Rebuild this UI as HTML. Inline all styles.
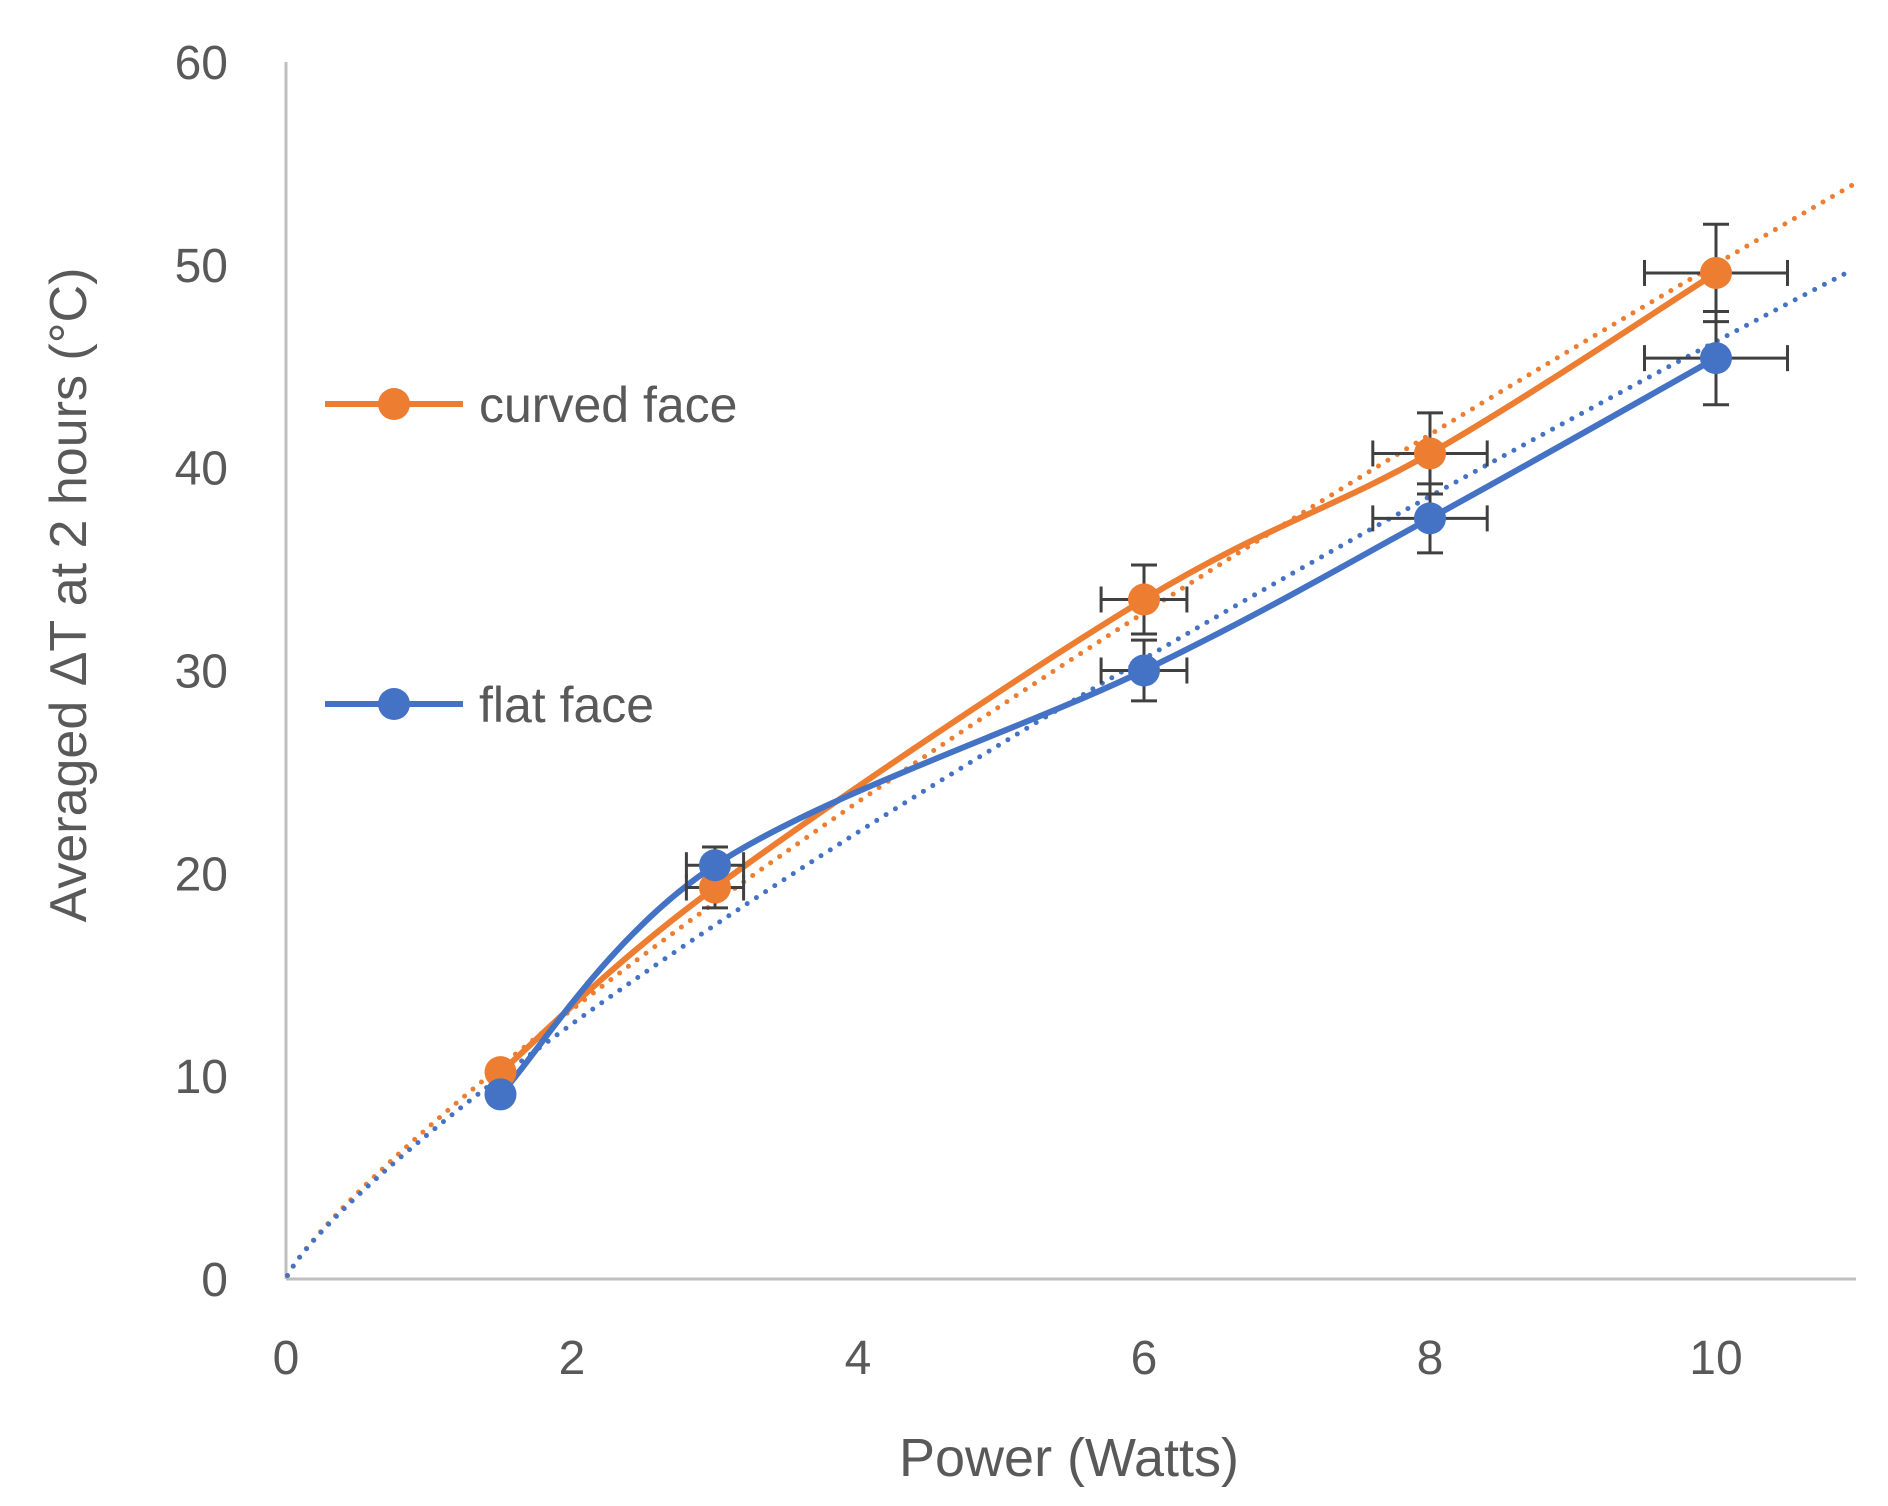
<!DOCTYPE html>
<html><head><meta charset="utf-8"><style>
html,body{margin:0;padding:0;background:#fff;}
svg{display:block;font-family:"Liberation Sans",sans-serif;}
</style></head><body>
<svg id="chart" width="1888" height="1506" viewBox="0 0 1888 1506">
<g id="axes"></g><g id="trend"></g><g id="lines"></g><g id="errs"></g><g id="marks"></g><g id="legend"></g>
</svg>
<script>
const xTicks=[0,2,4,6,8,10];
const yTicks=[0,10,20,30,40,50,60];
const powerW=[1.5,3,6,8,10];
const curvedT=[10.2,19.3,33.5,40.7,49.6];
const flatT=[9.1,20.4,30.0,37.5,45.4];
const curvedYErr=[0,1.0,1.7,2.0,2.4];
const flatYErr=[0,0.9,1.5,1.7,2.3];
const xErr=[0,0.2,0.3,0.4,0.5];
const seriesNames=["curved face","flat face"];
const NS="http://www.w3.org/2000/svg";
const X0=286,XS=143,Y0=1279,YS=(1279-62)/60,XMAX=11;
const sx=v=>X0+v*XS, sy=v=>Y0-v*YS;
function mk(tag,attrs,parent){const e=document.createElementNS(NS,tag);for(const k in attrs)e.setAttribute(k,attrs[k]);document.getElementById(parent).appendChild(e);return e;}
let a=mk('line',{x1:X0,y1:62,x2:X0,y2:Y0,stroke:'#bfbfbf','stroke-width':3},'axes');


a=mk('line',{x1:X0,y1:Y0,x2:1856,y2:Y0,stroke:'#bfbfbf','stroke-width':3},'axes');


xTicks.forEach(t=>{const e=mk('text',{x:sx(t),y:1374,'text-anchor':'middle','font-size':48,fill:'#595959'},'axes');e.textContent=t;

});
yTicks.forEach(t=>{const e=mk('text',{x:228,y:sy(t)+17,'text-anchor':'end','font-size':48,fill:'#595959'},'axes');e.textContent=t;

});
let t=mk('text',{x:1069,y:1476,'text-anchor':'middle','font-size':54,fill:'#595959'},'axes');t.textContent='Power (Watts)';


t=mk('text',{x:0,y:0,'text-anchor':'middle','font-size':52,fill:'#595959',transform:'translate(86,595) rotate(-90)'},'axes');t.textContent='Averaged ΔT at 2 hours (°C)';


const colors=['#ED7D31','#4472C4'];
const data=[curvedT,flatT], yerr=[curvedYErr,flatYErr];
function smooth(pts){let d=`M${pts[0][0]},${pts[0][1]}`;for(let i=0;i<pts.length-1;i++){const p0=pts[Math.max(0,i-1)],p1=pts[i],p2=pts[i+1],p3=pts[Math.min(pts.length-1,i+2)];const k=1/6;d+=` C${p1[0]+(p2[0]-p0[0])*k},${p1[1]+(p2[1]-p0[1])*k} ${p2[0]-(p3[0]-p1[0])*k},${p2[1]-(p3[1]-p1[1])*k} ${p2[0]},${p2[1]}`;}return d;}
data.forEach((ys,si)=>{
 const lx=powerW.map(Math.log), ly=ys.map(Math.log), n=lx.length;
 const mx=lx.reduce((s,v)=>s+v,0)/n,my=ly.reduce((s,v)=>s+v,0)/n;
 let num=0,den=0;for(let i=0;i<n;i++){num+=(lx[i]-mx)*(ly[i]-my);den+=(lx[i]-mx)**2;}
 const b=num/den,A=Math.exp(my-b*mx);
 let d='';for(let x=0.01;x<=XMAX;x+=0.05){d+=(d?'L':'M')+sx(x)+','+sy(A*Math.pow(x,b));}
 let e=mk('path',{d:d,fill:'none',stroke:colors[si],'stroke-width':5,'stroke-dasharray':'0 11','stroke-linecap':'round'},'trend');
 
 
 const pts=powerW.map((x,i)=>[sx(x),sy(ys[i])]);
 e=mk('path',{d:smooth(pts),fill:'none',stroke:colors[si],'stroke-width':6},'lines');
 
 
 powerW.forEach((x,i)=>{
  const cx=sx(x),cy=sy(ys[i]);
  if(yerr[si][i]>0||xErr[i]>0){
   const g=mk('g',{stroke:'#404040','stroke-width':3},'errs');
   
   
   const y1=sy(ys[i]+yerr[si][i]),y2=sy(ys[i]-yerr[si][i]),x1=sx(x-xErr[i]),x2=sx(x+xErr[i]);
   [[cx,y1,cx,y2],[cx-13,y1,cx+13,y1],[cx-13,y2,cx+13,y2],[x1,cy,x2,cy],[x1,cy-13,x1,cy+13],[x2,cy-13,x2,cy+13]].forEach(l=>{const ln=document.createElementNS(NS,'line');ln.setAttribute('x1',l[0]);ln.setAttribute('y1',l[1]);ln.setAttribute('x2',l[2]);ln.setAttribute('y2',l[3]);g.appendChild(ln);});
  }
  const c=mk('circle',{cx:cx,cy:cy,r:16,fill:colors[si]},'marks');
  
  
 });
 const ly0=si?704:404;
 const lg=mk('g',{},'legend');
 
 
 let l=document.createElementNS(NS,'line');l.setAttribute('x1',325);l.setAttribute('x2',463);l.setAttribute('y1',ly0);l.setAttribute('y2',ly0);l.setAttribute('stroke',colors[si]);l.setAttribute('stroke-width',6);lg.appendChild(l);
 let cc=document.createElementNS(NS,'circle');cc.setAttribute('cx',394);cc.setAttribute('cy',ly0);cc.setAttribute('r',16);cc.setAttribute('fill',colors[si]);lg.appendChild(cc);
 let tx=document.createElementNS(NS,'text');tx.setAttribute('x',479);tx.setAttribute('y',ly0+18);tx.setAttribute('font-size',50);tx.setAttribute('fill','#595959');tx.textContent=seriesNames[si];lg.appendChild(tx);
});
</script>
</body></html>
